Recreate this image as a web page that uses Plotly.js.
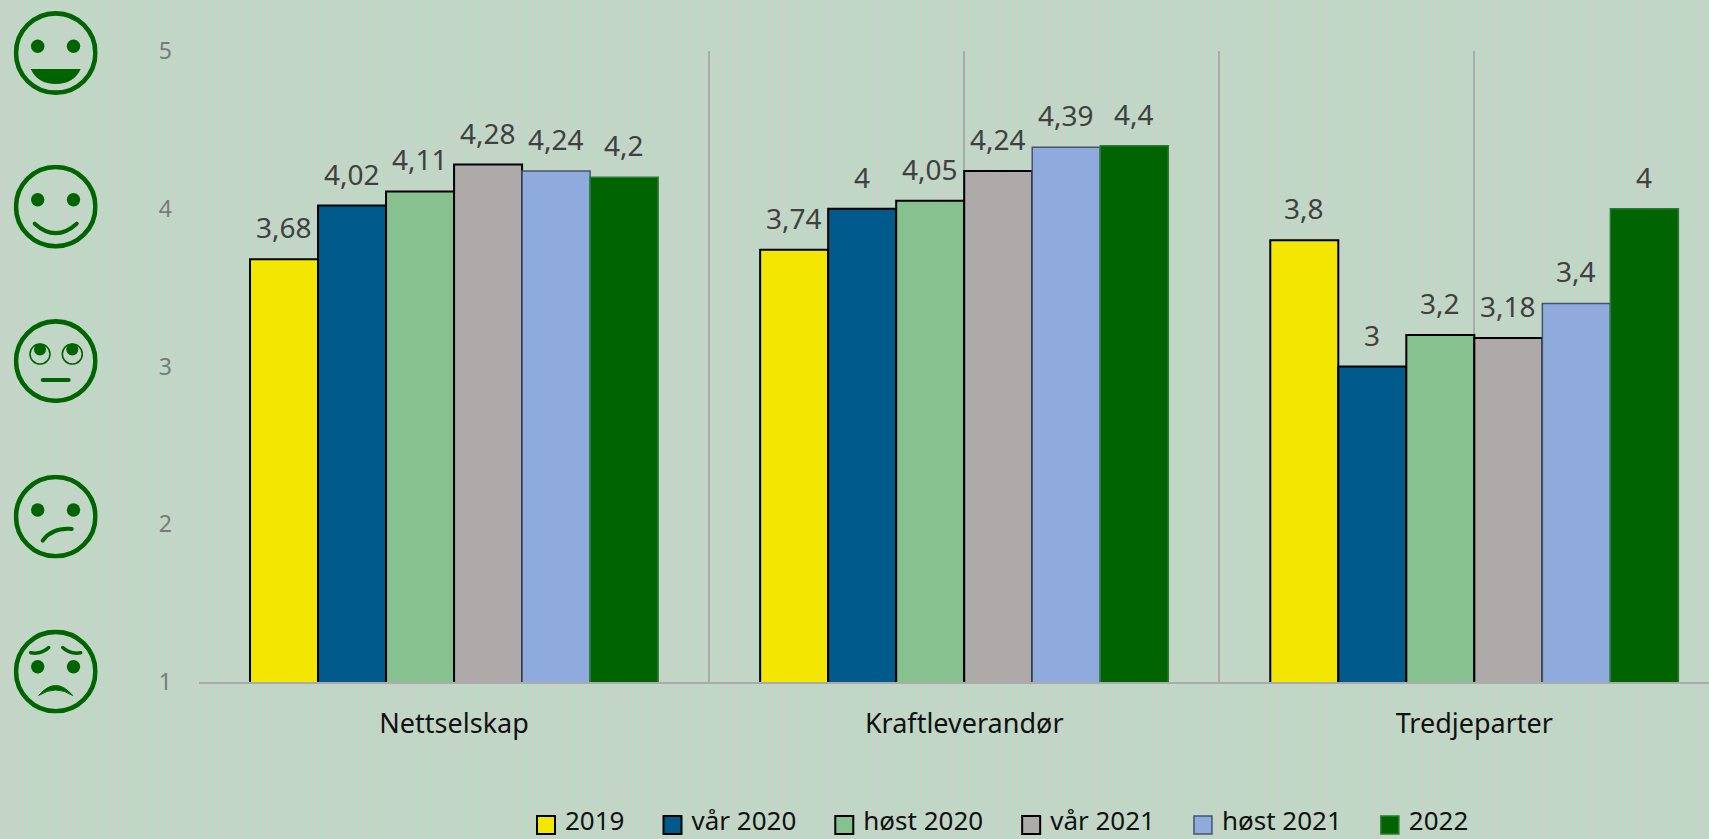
<!DOCTYPE html>
<html><head><meta charset="utf-8">
<script src="https://cdn.plot.ly/plotly-3.0.1.min.js"></script>
<style>
html,body{margin:0;padding:0;width:1709px;height:839px;overflow:hidden;
background:repeating-linear-gradient(90deg,#ccd0c9 0,#ccd0c9 2.18px,#b6ddc4 2.18px,#b6ddc4 4.36px);}
#chart{width:1709px;height:839px;}
</style></head><body><div id="chart"></div>
<script>
const categories=["Nettselskap","Kraftleverandør","Tredjeparter"];
const categoryPositions=[0,1,2];
const seriesNames=["2019","vår 2020","høst 2020","vår 2021","høst 2021","2022"];
const v2019=[3.68,3.74,3.8];
const vVar2020=[4.02,4,3];
const vHost2020=[4.11,4.05,3.2];
const vVar2021=[4.28,4.24,3.18];
const vHost2021=[4.24,4.39,3.4];
const v2022=[4.2,4.4,4];
const seriesValues=[v2019,vVar2020,vHost2020,vVar2021,vHost2021,v2022];
const seriesColors=["#f3e600","#005a8c","#88c190","#aeaaaa","#8faadc","#006400"];
const lineColors=["#000","#000","#000","#000","#44546a","#2a7a35"];
const lineWidths=[2,2,2,2,1.5,1.5];
const yTicks=[1,2,3,4,5];
const groupWidth=0.8;
const fmt=v=>String(v).replace(".",",");
const FONT="Noto Sans";
const traces=seriesNames.map((n,i)=>({type:"bar",name:n,x:categoryPositions,y:seriesValues[i],
 marker:{color:seriesColors[i],line:{color:lineColors[i],width:lineWidths[i]}},hoverinfo:"skip"}));
const n=seriesNames.length;
const annotations=[];
seriesValues.forEach((vals,i)=>vals.forEach((v,c)=>annotations.push({
 x:categoryPositions[c]+(i-(n-1)/2)*groupWidth/n,y:v,xref:"x",yref:"y",text:fmt(v),showarrow:false,
 xanchor:"center",yanchor:"bottom",yshift:11,font:{family:FONT,size:28,color:"#404040"}})));
const L=199,T=50.7,W=1510,H=631.5;
const face=(extra)=>'data:image/svg+xml;utf8,'+encodeURIComponent(
 '<svg xmlns="http://www.w3.org/2000/svg" viewBox="0 0 84 84" width="84" height="84"><circle cx="42" cy="42" r="39.7" fill="none" stroke="#006400" stroke-width="4.6"/>'+extra+'</svg>');
const eyes=(cy)=>'<circle cx="24" cy="'+cy+'" r="6.7" fill="#006400"/><circle cx="59.8" cy="'+cy+'" r="6.7" fill="#006400"/>';
const faces=[
 {cy:52.7,svg:eyes(35.3)+'<path d="M17 58 H67 Q60 73 42 73 Q24 73 17 58Z" fill="#006400"/>'},
 {cy:206.5,svg:eyes(35)+'<path d="M21 59 Q42 78 63 59" fill="none" stroke="#006400" stroke-width="4" stroke-linecap="round"/>'},
 {cy:361,svg:'<circle cx="26.3" cy="35" r="10" fill="none" stroke="#006400" stroke-width="1.6"/><circle cx="58.6" cy="35" r="10" fill="none" stroke="#006400" stroke-width="1.6"/><circle cx="26.3" cy="30.5" r="6" fill="#006400"/><circle cx="58.6" cy="30.5" r="6" fill="#006400"/><path d="M29 61 H55" stroke="#006400" stroke-width="4" stroke-linecap="round"/>'},
 {cy:516.7,svg:eyes(35.3)+'<path d="M29 66 Q38 53 58 54.3" fill="none" stroke="#006400" stroke-width="4" stroke-linecap="round"/>'},
 {cy:671.7,svg:eyes(37.3)+'<path d="M17 23.3 Q28 25 35 18 M49 18 Q56 25 67 23.3" fill="none" stroke="#006400" stroke-width="3.5" stroke-linecap="round"/><path d="M25 66 Q42 46 59 66 Q42 55 25 66Z" fill="#006400" stroke="#006400" stroke-width="1"/>'}
];
const images=faces.map(f=>({source:face(f.svg),xref:"paper",yref:"paper",
 x:(13.7-L)/W,y:(T+H-(f.cy-42))/H,sizex:84/W,sizey:84/H,xanchor:"left",yanchor:"top",sizing:"stretch",layer:"above"}));
const layout={width:1709,height:839,autosize:false,paper_bgcolor:"rgba(0,0,0,0)",plot_bgcolor:"rgba(0,0,0,0)",
 margin:{l:L,r:0,t:T,b:839-T-H,pad:0,autoexpand:false},barmode:"group",bargap:0.2,bargroupgap:0,showlegend:true,
 xaxis:{type:"linear",range:[-0.5,2.46],tickmode:"array",tickvals:categoryPositions,ticktext:categories,
  tickfont:{family:FONT,size:27,color:"#111"},ticks:"",ticklabelstandoff:17,showgrid:false,
  minor:{tickmode:"array",tickvals:[-0.5,0.5,1,1.5,2],showgrid:true,gridcolor:"#ababab",gridwidth:2,ticks:""},
  showline:true,linecolor:"#ababab",linewidth:2,zeroline:false},
 yaxis:{range:[1,5],tickmode:"array",tickvals:yTicks,ticktext:yTicks.map(String),tickfont:{family:FONT,size:23,color:"#7a7a7a"},
  ticks:"",ticklabelstandoff:26,showgrid:false,showline:false,zeroline:false},
 legend:{orientation:"h",xref:"container",yref:"container",x:503/1709,xanchor:"left",y:1-820/839,yanchor:"middle",itemwidth:52,
  font:{family:FONT,size:26,color:"#111"},bgcolor:"rgba(0,0,0,0)",itemclick:false,itemdoubleclick:false},
 annotations:annotations,images:images};
Plotly.newPlot("chart",traces,layout,{displayModeBar:false,staticPlot:true}).then(()=>{
 document.querySelectorAll(".legend .traces").forEach((g,i)=>{
  const p=g.querySelector(".legendpoints path");const t=g.querySelector("text");
  if(!p||!t)return;
  p.setAttribute("d","M-9,-9H9V9H-9Z");
  p.style.strokeWidth=lineWidths[i]+"px";
  p.removeAttribute("transform");
  const a=p.getBoundingClientRect(),b=t.getBoundingClientRect();
  const dx=(b.left-19)-(a.left+a.width/2);
  p.setAttribute("transform","translate("+dx+",5)");
 });
});
</script></body></html>
